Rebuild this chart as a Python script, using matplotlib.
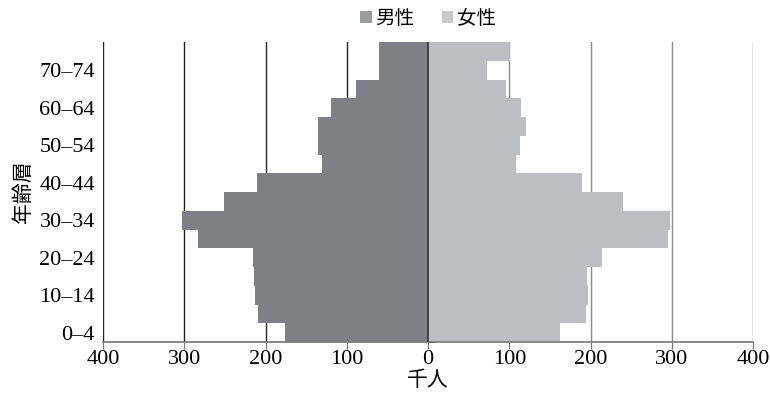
import numpy as np
import matplotlib.pyplot as plt

plt.rcParams['font.family'] = ['Liberation Serif', 'Noto Sans CJK JP']

# age groups, bottom to top
age_groups = ['0–4', '5–9', '10–14', '15–19', '20–24', '25–29', '30–34', '35–39',
              '40–44', '45–49', '50–54', '55–59', '60–64', '65–69', '70–74', '75–79']
male = [176, 210, 213, 214, 216, 283, 303, 251, 211, 131, 135, 135, 120, 89, 61, 60]
female = [162, 194, 197, 196, 214, 295, 298, 240, 189, 108, 113, 121, 114, 96, 73, 101]

x_ticks = [-400, -300, -200, -100, 0, 100, 200, 300, 400]

male_color = '#7f8085'
female_color = '#bdbec2'

fig = plt.figure(figsize=(7.7, 4.0), dpi=100)
ax = fig.add_axes([0.134, 0.145, 0.844, 0.75])

y = np.arange(len(age_groups))
ax.barh(y, [-m for m in male], height=1.0, color=male_color, zorder=2, label='男性')
ax.barh(y, female, height=1.0, color=female_color, zorder=2, label='女性')

# vertical grid lines
for xt in x_ticks:
    if xt < 0:
        ax.axvline(xt, color='#222222', lw=1.0, zorder=1)
    elif xt > 0:
        ax.axvline(xt, color='#8a8a8a', lw=1.0, zorder=1)
ax.axvline(0, color='#333333', lw=1.2, zorder=3)

ax.set_xlim(-400, 400)
ax.set_ylim(-0.5, len(age_groups) - 0.5)

ax.set_xticks(x_ticks)
ax.set_xticklabels([str(abs(v)) for v in x_ticks], fontsize=16)
ax.tick_params(axis='x', direction='out', length=5, color='#777777', pad=1)

ax.set_yticks(y[::2])
ax.set_yticklabels(age_groups[::2], fontsize=16)
ax.tick_params(axis='y', length=0, pad=6)

for s in ['top', 'right', 'left']:
    ax.spines[s].set_visible(False)
ax.spines['bottom'].set_color('#777777')
ax.spines['bottom'].set_linewidth(1.2)

# small ticks on the centre axis at each band boundary
sec = ax.secondary_yaxis(0.5)
sec.set_yticks(np.arange(-0.5, len(age_groups) - 1, 1.0))
sec.set_yticklabels([])
sec.tick_params(axis='y', direction='out', length=5, width=1.2, color='#333333')
sec.spines['left'].set_visible(False)

ax.set_xlabel('千人', fontsize=15, labelpad=0, family=['Noto Sans CJK JP'])
ax.set_ylabel('年齢層', fontsize=15, labelpad=4, family=['Noto Sans CJK JP'])

leg = ax.legend(loc='lower center', bbox_to_anchor=(0.5, 0.985), ncol=2, frameon=False,
                prop={'family': ['Noto Sans CJK JP'], 'size': 14},
                handlelength=0.6, handleheight=0.6, handletextpad=0.2, columnspacing=1.4)
leg.legend_handles[0].set_facecolor('#9b9ca0')
leg.legend_handles[1].set_facecolor('#c8c9cc')

fig.savefig('out.png', dpi=100)
